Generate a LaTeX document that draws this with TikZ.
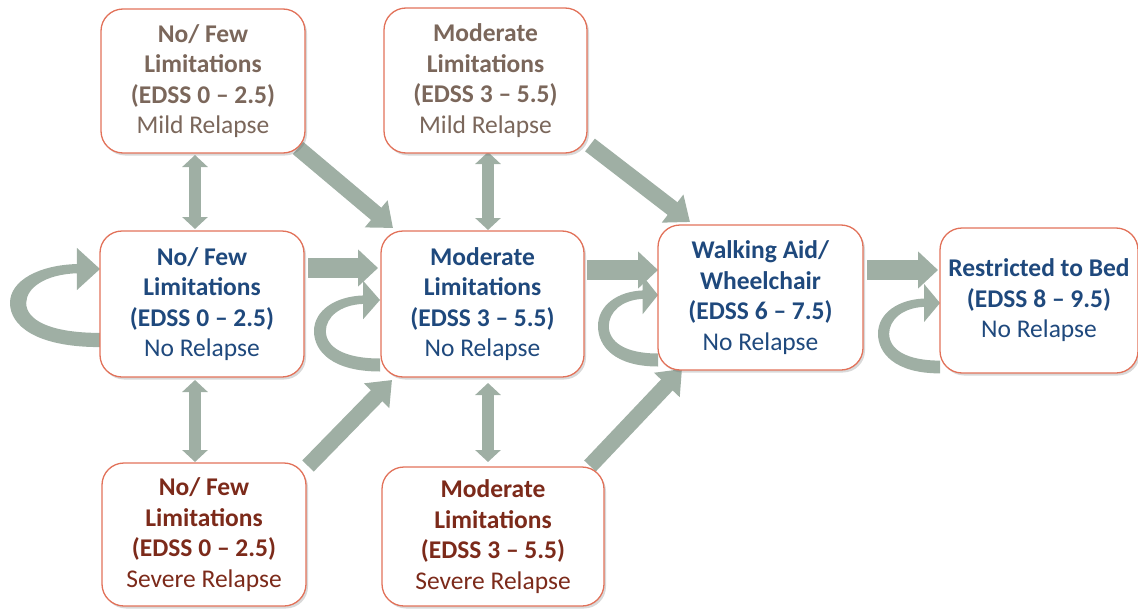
\documentclass[tikz,border=0pt]{standalone}
\usepackage{fontspec}
\setmainfont{Carlito}
\usetikzlibrary{arrows.meta,calc,shadows,backgrounds}
\definecolor{arrfill}{HTML}{9FAFA4}
\definecolor{boxline}{HTML}{E2725A}
\definecolor{txtblue}{HTML}{1F497D}
\definecolor{txtbrown}{HTML}{7B675B}
\definecolor{txtred}{HTML}{7C2A1A}
\newcommand\selfloop[3]{%
  \begin{scope}[shift={#1}, xscale=#2, yscale=#3]
    \fill[arrfill] (0,1.10) .. controls (-0.722,1.10) and (-1,0.789) .. (-1,0.479)
      .. controls (-1,0.155) and (-0.667,-0.056) .. (-0.256,-0.070)
      -- (-0.256,-0.296) -- (0,0) -- (-0.256,0.296) -- (-0.256,0.060)
      .. controls (-0.611,0.075) and (-0.82,0.268) .. (-0.82,0.479)
      .. controls (-0.82,0.718) and (-0.556,0.90) .. (0,0.90) -- cycle;
  \end{scope}}
\begin{document}
\begin{tikzpicture}[x=1pt,y=-1pt,
  statebox/.style={draw=boxline, line width=1.3pt, fill=white, rounded corners=22pt,
    align=center, inner sep=2pt, outer sep=0pt,
    font=\fontsize{25.5}{30.5}\selectfont,
    drop shadow={shadow xshift=2pt, shadow yshift=-2.5pt, opacity=0.25, fill=black!60}},
  blue/.style={statebox, text=txtblue},
  brown/.style={statebox, text=txtbrown},
  red/.style={statebox, text=txtred},
  harrow/.style={draw=arrfill, line width=20pt, -{Triangle[length=20pt,width=36pt]}},
  darrow/.style={draw=arrfill, line width=16pt, -{Triangle[length=22pt,width=34pt]}},
  varrow/.style={draw=arrfill, line width=12pt, {Triangle[length=12pt,width=25pt]}-{Triangle[length=12pt,width=25pt]}}]
\useasboundingbox (0,0) rectangle (1138,613);

\node[brown, minimum width=204pt, minimum height=144pt] (A1) at (203,81)
  {\textbf{No/ Few}\\\textbf{Limitations}\\\textbf{(EDSS 0 – 2.5)}\\Mild Relapse};
\node[blue, minimum width=204pt, minimum height=146pt] (A2) at (202,304)
  {\textbf{No/ Few}\\\textbf{Limitations}\\\textbf{(EDSS 0 – 2.5)}\\No Relapse};
\node[red, minimum width=204pt, minimum height=143pt] (A3) at (204,534.5)
  {\textbf{No/ Few}\\\textbf{Limitations}\\\textbf{(EDSS 0 – 2.5)}\\Severe Relapse};
\node[brown, minimum width=203pt, minimum height=145pt] (B1) at (485.5,80.5)
  {\textbf{Moderate}\\\textbf{Limitations}\\\textbf{(EDSS 3 – 5.5)}\\Mild Relapse};
\node[blue, minimum width=203pt, minimum height=146pt] (B2) at (482.5,304)
  {\textbf{Moderate}\\\textbf{Limitations}\\\textbf{(EDSS 3 – 5.5)}\\No Relapse};
\node[red, minimum width=222pt, minimum height=139pt] (B3) at (493,536.5)
  {\textbf{Moderate}\\\textbf{Limitations}\\\textbf{(EDSS 3 – 5.5)}\\Severe Relapse};
\node[blue, minimum width=205pt, minimum height=145pt] (C2) at (760.5,297.5)
  {\textbf{Walking Aid/}\\\textbf{Wheelchair}\\\textbf{(EDSS 6 – 7.5)}\\No Relapse};
\node[blue, minimum width=198pt, minimum height=145pt] (D2) at (1039,300.5)
  {\textbf{Restricted to Bed}\\\textbf{(EDSS 8 – 9.5)}\\No Relapse};

\coordinate (xA) at (195,0);
\coordinate (xB) at (488,0);

\begin{scope}[on background layer]
  % vertical double arrows
  \draw[varrow] ($(A1.south-|xA)+(0,2)$) -- ($(A2.north-|xA)+(0,-2)$);
  \draw[varrow] ($(A2.south-|xA)+(0,3)$) -- ($(A3.north-|xA)+(0,-1)$);
  \draw[varrow] ($(B1.south-|xB)+(0,-1)$) -- ($(B2.north-|xB)+(0,-1)$);
  \draw[varrow] ($(B2.south-|xB)+(0,6)$) -- ($(B3.north-|xB)+(0,-5)$);
  % horizontal arrows
  \draw[harrow] ($(A2.north east)+(4,37)$) -- ($(B2.north west)+(-3,37)$);
  \draw[harrow] ($(B2.north east)+(3,39)$) -- ($(C2.north west)+(0,45)$);
  \draw[harrow] ($(C2.north east)+(4,45)$) -- ($(D2.north west)+(-2,42)$);
  % diagonal arrows
  \draw[darrow] ($(A1.south east)+(-7,-5)$) -- ($(B2.north west)+(12,-3)$);
  \draw[darrow] ($(B1.south east)+(3,-8)$) -- ($(C2.north west)+(32,-3)$);
  \draw[darrow] ($(A3.north east)+(2,3)$) -- ($(B2.south west)+(11,3)$);
  \draw[darrow] ($(B3.north east)+(-14,-1)$) -- ($(C2.south west)+(24,-1)$);
  % self loops
  \selfloop{($(A2.north west)+(0,38)$)}{90}{71}
  \selfloop{($(B2.north west)+(-1,69)$)}{66}{65}
  \selfloop{($(C2.north west)+(0,70)$)}{60}{65}
  \selfloop{($(D2.north west)+(0,75)$)}{62}{64}
\end{scope}
\end{tikzpicture}
\end{document}
